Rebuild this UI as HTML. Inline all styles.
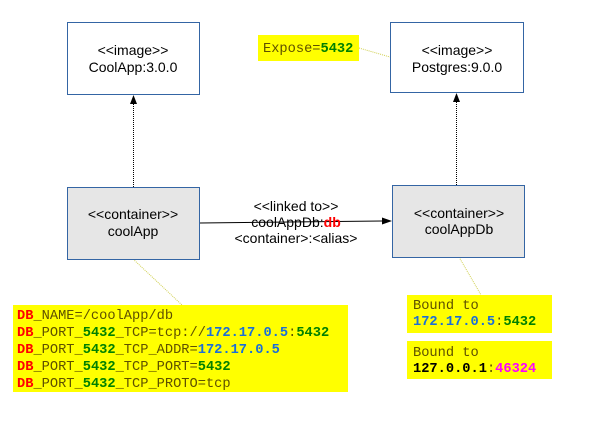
<!DOCTYPE html>
<html><head><meta charset="utf-8"><style>
html,body{margin:0;padding:0;background:#fff;width:600px;height:424px;overflow:hidden}
svg{display:block}
.s{font-family:"Liberation Sans",sans-serif;font-size:14px;fill:#000}
.m{font-family:"Liberation Mono",monospace;font-size:13.7px;fill:#5e5000}
.r{fill:#ff0000;font-weight:bold}
.g{fill:#008000;font-weight:bold}
.b{fill:#1a6ed8;font-weight:bold}
.k{fill:#000;font-weight:bold}
.p{fill:#ff00ff;font-weight:bold}
</style></head><body>
<svg width="600" height="424" viewBox="0 0 600 424">
<line x1="359" y1="48" x2="390" y2="57" stroke="#d0d050" stroke-width="1" stroke-dasharray="1,1"/>
<line x1="133" y1="259" x2="182" y2="305" stroke="#d0d050" stroke-width="1" stroke-dasharray="1,1"/>
<line x1="459" y1="257" x2="481" y2="295" stroke="#d0d050" stroke-width="1" stroke-dasharray="1,1"/>
<rect x="67.5" y="22.5" width="132" height="72" fill="#fff" stroke="#3465a4"/>
<text class="s" x="133" y="55" text-anchor="middle">&lt;&lt;image&gt;&gt;</text>
<text class="s" x="133" y="72" text-anchor="middle">CoolApp:3.0.0</text>
<rect x="390.5" y="22.5" width="133" height="70" fill="#fff" stroke="#3465a4"/>
<text class="s" x="457" y="55" text-anchor="middle">&lt;&lt;image&gt;&gt;</text>
<text class="s" x="457" y="72" text-anchor="middle">Postgres:9.0.0</text>
<rect x="67.5" y="187.5" width="132" height="72" fill="#e6e6e6" stroke="#3465a4"/>
<text class="s" x="133" y="219" text-anchor="middle">&lt;&lt;container&gt;&gt;</text>
<text class="s" x="133" y="236" text-anchor="middle">coolApp</text>
<rect x="392.5" y="185.5" width="132" height="72" fill="#e6e6e6" stroke="#3465a4"/>
<text class="s" x="459" y="218" text-anchor="middle">&lt;&lt;container&gt;&gt;</text>
<text class="s" x="459" y="234" text-anchor="middle">coolAppDb</text>
<line x1="133.5" y1="187" x2="133.5" y2="103" stroke="#000" stroke-dasharray="1,1"/>
<polygon points="133.5,95 130,104 137,104" fill="#000"/>
<line x1="456.5" y1="185" x2="456.5" y2="101" stroke="#000" stroke-dasharray="1,1"/>
<polygon points="456.5,93 453,102 460,102" fill="#000"/>
<line x1="200" y1="223" x2="384" y2="221" stroke="#000"/>
<polygon points="392,221 382,217.5 382,224.5" fill="#000"/>
<text class="s" x="296" y="211" text-anchor="middle">&lt;&lt;linked to&gt;&gt;</text>
<text class="s" x="296" y="227" text-anchor="middle">coolAppDb:<tspan fill="#ff0000" font-weight="bold">db</tspan></text>
<text class="s" x="296" y="243" text-anchor="middle">&lt;container&gt;:&lt;alias&gt;</text>
<rect x="258" y="35" width="101" height="26" fill="#ffff00"/>
<text class="m" x="263" y="52">Expose=<tspan class="g">5432</tspan></text>
<rect x="13" y="305" width="335" height="87" fill="#ffff00"/>
<text class="m" x="17" y="319"><tspan class="r">DB</tspan>_NAME=/coolApp/db</text>
<text class="m" x="17" y="336"><tspan class="r">DB</tspan>_PORT_<tspan class="g">5432</tspan>_TCP=tcp://<tspan class="b">172.17.0.5</tspan>:<tspan class="g">5432</tspan></text>
<text class="m" x="17" y="353"><tspan class="r">DB</tspan>_PORT_<tspan class="g">5432</tspan>_TCP_ADDR=<tspan class="b">172.17.0.5</tspan></text>
<text class="m" x="17" y="370"><tspan class="r">DB</tspan>_PORT_<tspan class="g">5432</tspan>_TCP_PORT=<tspan class="g">5432</tspan></text>
<text class="m" x="17" y="387"><tspan class="r">DB</tspan>_PORT_<tspan class="g">5432</tspan>_TCP_PROTO=tcp</text>
<rect x="407" y="295" width="145" height="38" fill="#ffff00"/>
<text class="m" x="413" y="309">Bound to</text>
<text class="m" x="413" y="325"><tspan class="b">172.17.0.5</tspan>:<tspan class="g">5432</tspan></text>
<rect x="407" y="341" width="145" height="38" fill="#ffff00"/>
<text class="m" x="413" y="356">Bound to</text>
<text class="m" x="413" y="372"><tspan class="k">127.0.0.1</tspan>:<tspan class="p">46324</tspan></text>
</svg>
</body></html>
